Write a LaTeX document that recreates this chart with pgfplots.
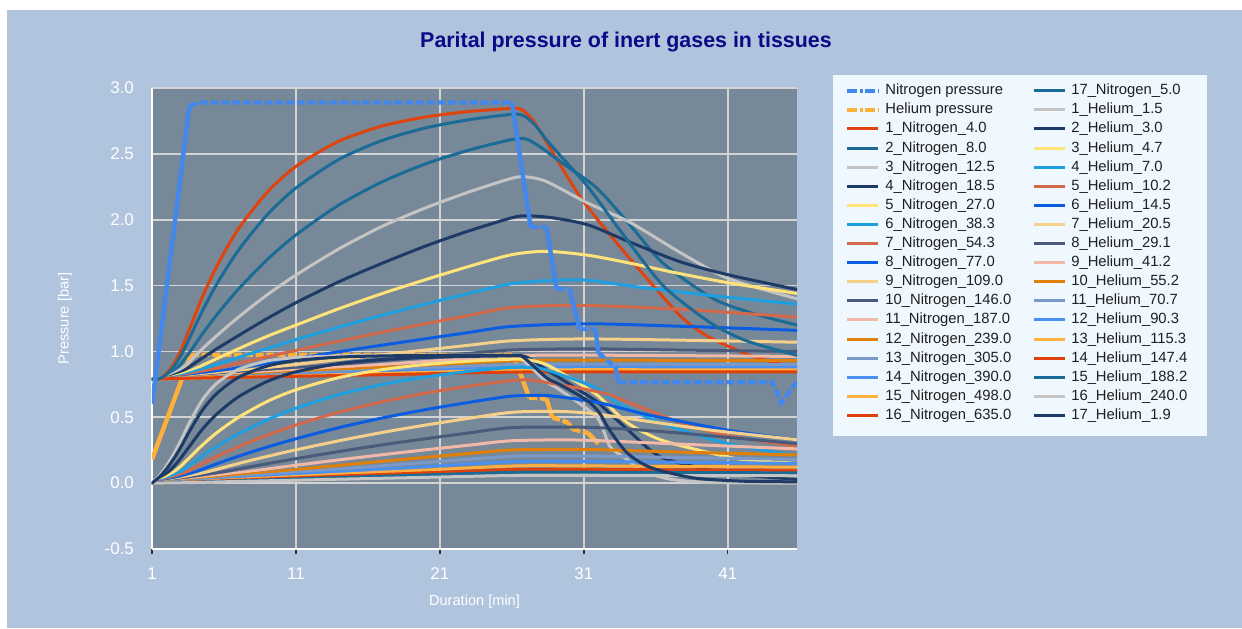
\documentclass[border=0pt]{standalone}
\usepackage{pgfplots}
\pgfplotsset{compat=1.18}
\usepackage{fontspec}
\setmainfont{Liberation Sans}
\definecolor{outerbg}{RGB}{176,196,222}
\definecolor{plotbg}{RGB}{119,136,153}
\definecolor{legbg}{RGB}{240,248,255}
\definecolor{titlec}{RGB}{10,10,135}
\definecolor{gridc}{RGB}{211,211,211}
\definecolor{cNP}{RGB}{66,135,235}
\definecolor{cHP}{RGB}{255,176,59}
\definecolor{cRed}{RGB}{224,68,14}
\definecolor{cTeal}{RGB}{26,107,150}
\definecolor{cGrey}{RGB}{196,196,196}
\definecolor{cNavy}{RGB}{30,58,102}
\definecolor{cYel}{RGB}{255,227,122}
\definecolor{cLBlue}{RGB}{30,160,224}
\definecolor{cCoral}{RGB}{210,105,74}
\definecolor{cBlue}{RGB}{10,92,224}
\definecolor{cLOr}{RGB}{245,208,138}
\definecolor{cSlate}{RGB}{74,90,122}
\definecolor{cPink}{RGB}{242,184,168}
\definecolor{cOr}{RGB}{224,128,8}
\definecolor{cBGrey}{RGB}{122,152,200}
\definecolor{cMBlue}{RGB}{74,144,240}
\definecolor{cYOr}{RGB}{255,176,64}
\definecolor{cRed2}{RGB}{224,64,10}
\begin{document}
\begin{tikzpicture}[x=1pt,y=1pt]
\fill[white] (0,0) rectangle (621,314);
\fill[outerbg] (3.5,0) rectangle (621,309);
\fill[legbg] (416.5,96) rectangle (603.5,276.5);
\node[font=\bfseries\fontsize{10.7}{12}\selectfont, text=titlec] at (313,293) {Parital pressure of inert gases in tissues};
\begin{axis}[
  at={(76pt,39.5pt)}, anchor=south west,
  width=322.5pt, height=230.5pt, scale only axis,
  xmin=1, xmax=45.8, ymin=-0.5, ymax=3.0,
  xtick={1,11,21,31,41}, ytick={-0.5,0,...,3},
  axis background/.style={fill=plotbg},
  grid=major, major grid style={gridc, line width=0.8pt},
  axis lines*=left, axis line style={white, line width=1pt},
  tick style={black!80, line width=0.6pt}, major tick length=2.5pt, tick align=outside,
  ytick style={draw=none},
  ticklabel style={white, font=\fontsize{8.5}{10}\selectfont},
  /pgf/number format/assume math mode=true,
  yticklabel style={/pgf/number format/.cd, fixed, fixed zerofill, precision=1, /tikz/.cd, xshift=-3pt},
  xticklabel style={yshift=-3.5pt},
  xlabel={Duration [min]}, ylabel={Pressure [bar]},
  label style={text=white, font=\fontsize{7.3}{9}\selectfont},
  xlabel style={at={(axis description cs:0.5,-0.115)}, anchor=center},
  ylabel style={at={(axis description cs:-0.135,0.5)}, anchor=center},
  unbounded coords=jump,
  tis/.style={smooth, tension=0.45, forget plot, line width=1.5pt, line cap=round, line join=round},
  pres/.style={forget plot, line width=2.2pt},
  legend columns=2, legend cell align=left,
  legend image code/.code={\draw[#1] (0pt,0pt) -- (15.5pt,0pt);},
  legend style={at={(1.0744,1.0126)}, anchor=north west, draw=none, fill=none,
    inner xsep=0pt, inner ysep=0pt, font=\fontsize{7.4}{8.5}\selectfont, text=black!88,
    nodes={inner sep=0.5pt, text height=5.6pt, text depth=1.6pt, anchor=west},
    row sep=1.35pt,
    /tikz/every even column/.append style={column sep=10pt},
    /tikz/every odd column/.append style={column sep=2pt}},
]
% Helium pressure
\addplot[pres, cHP] coordinates {(1,0.18)(3.7,0.975)(3.8,nan)(26.1,0.975)(27.2,0.65)(27.3,nan)(28.4,0.64)(28.8,0.50)(28.9,nan)(29.9,0.46)(30.2,0.41)(30.3,nan)(31.3,0.38)(32.0,0.30)};
\addplot[pres, cHP, dash pattern=on 4pt off 1.4pt] coordinates {(3.7,0.975)(26.1,0.975)(26.2,nan)(27.2,0.65)(28.4,0.64)(28.5,nan)(28.8,0.50)(29.9,0.46)(30.0,nan)(30.2,0.41)(31.3,0.38)};
% Nitrogen tissues
\addplot[tis, cRed] coordinates {(1,0.79)(1.5,0.793)(2,0.832)(2.5,0.904)(3,1.007)(3.6,1.167)(4.5,1.414)(5.5,1.647)(7,1.93)(9,2.208)(11,2.405)(14,2.597)(17,2.712)(20,2.78)(23,2.821)(26,2.845)(26.7,2.835)(27.5,2.75)(28.4,2.59)(30.7,2.18)(33,1.86)(35.4,1.55)(37.7,1.27)(39.5,1.12)(42.3,0.98)(44.4,0.91)(45.8,0.88)};
\addplot[tis, cTeal] coordinates {(1,0.79)(1.5,0.791)(2,0.811)(2.5,0.849)(3,0.904)(3.6,0.991)(4.5,1.133)(5.5,1.278)(7,1.473)(9,1.697)(11,1.885)(14,2.113)(17,2.288)(20,2.424)(23,2.528)(26,2.609)(27,2.612)(28,2.55)(29.5,2.43)(31.9,2.24)(34.2,1.96)(36.5,1.67)(40,1.40)(43,1.28)(45.8,1.20)};
\addplot[tis, cGrey] coordinates {(1,0.79)(2,0.804)(3,0.866)(3.6,0.92)(4.5,1.02)(5.5,1.12)(7,1.26)(9,1.43)(11,1.58)(14,1.78)(17,1.95)(20,2.09)(23,2.21)(26,2.315)(27,2.325)(28.4,2.29)(31.2,2.13)(34.2,1.98)(37.7,1.75)(41.1,1.55)(45.8,1.40)};
\addplot[tis, cNavy] coordinates {(1,0.79)(2,0.799)(3,0.842)(3.6,0.883)(4.5,0.95)(5.5,1.02)(7,1.12)(9,1.25)(11,1.37)(14,1.53)(17,1.67)(20,1.80)(23,1.915)(26,2.015)(27,2.03)(28.8,2.015)(31.3,1.96)(34.2,1.83)(37.7,1.68)(41.1,1.58)(45.8,1.47)};
\addplot[tis, cYel] coordinates {(1,0.79)(2,0.796)(3,0.825)(3.6,0.85)(5.5,0.945)(7,1.02)(9,1.115)(11,1.20)(14,1.325)(17,1.44)(20,1.545)(23,1.645)(26,1.735)(28.4,1.76)(31.3,1.73)(34.2,1.67)(37.7,1.59)(41.1,1.52)(45.8,1.44)};
\addplot[tis, cLBlue] coordinates {(1,0.79)(2,0.795)(3,0.815)(3.6,0.835)(7,0.955)(11,1.09)(14,1.185)(17,1.275)(20,1.36)(23,1.44)(26,1.515)(29,1.54)(31.3,1.54)(35.4,1.48)(41.1,1.41)(45.8,1.36)};
\addplot[tis, cCoral] coordinates {(1,0.79)(2,0.794)(3,0.808)(3.6,0.822)(7,0.91)(11,1.008)(14,1.078)(17,1.146)(20,1.21)(23,1.273)(26,1.333)(30.7,1.35)(37.7,1.32)(45.8,1.26)};
\addplot[tis, cBlue] coordinates {(1,0.79)(2,0.792)(3.6,0.812)(7,0.875)(11,0.946)(14,0.998)(17,1.048)(20,1.096)(23,1.144)(26,1.19)(31.3,1.21)(38,1.19)(45.8,1.16)};
\addplot[tis, cLOr] coordinates {(1,0.79)(2,0.791)(3.6,0.806)(7,0.85)(11,0.901)(14,0.939)(17,0.975)(20,1.011)(23,1.047)(26,1.081)(31,1.095)(38,1.085)(45.8,1.07)};
\addplot[tis, cSlate] coordinates {(1,0.79)(3.6,0.802)(7,0.835)(11,0.874)(14,0.902)(17,0.93)(20,0.958)(23,0.985)(26,1.011)(31,1.02)(38,1.01)(45.8,1.00)};
\addplot[tis, cPink] coordinates {(1,0.79)(3.6,0.80)(7,0.826)(14,0.879)(20,0.923)(26,0.966)(31,0.972)(45.8,0.962)};
\addplot[tis, cOr] coordinates {(1,0.79)(3.6,0.799)(7,0.818)(14,0.86)(20,0.895)(26,0.929)(31,0.934)(45.8,0.93)};
\addplot[tis, cBGrey] coordinates {(1,0.79)(3.6,0.798)(7,0.812)(14,0.845)(20,0.872)(26,0.90)(31,0.904)(45.8,0.90)};
\addplot[tis, cMBlue] coordinates {(1,0.79)(7,0.808)(14,0.833)(20,0.855)(26,0.876)(31,0.879)(45.8,0.877)};
\addplot[tis, cYOr] coordinates {(1,0.79)(7,0.806)(14,0.824)(20,0.841)(26,0.858)(31,0.861)(45.8,0.86)};
\addplot[tis, cRed2] coordinates {(1,0.79)(7,0.804)(14,0.817)(20,0.83)(26,0.843)(31,0.845)(45.8,0.845)};
\addplot[tis, cTeal] coordinates {(1,0.79)(1.5,0.792)(2,0.824)(2.5,0.883)(3,0.967)(3.6,1.099)(4.5,1.308)(5.5,1.511)(7,1.768)(9,2.037)(11,2.241)(14,2.459)(17,2.602)(20,2.697)(23,2.759)(26,2.80)(26.8,2.79)(27.6,2.72)(28.6,2.58)(31.2,2.26)(33.5,1.92)(36.5,1.50)(39.75,1.22)(42.3,1.08)(45.8,0.97)};
% Helium tissues
\addplot[tis, cGrey] coordinates {(1,0)(1.5,0.055)(2,0.13)(2.5,0.22)(3,0.323)(3.6,0.459)(4.5,0.633)(5.5,0.758)(7,0.864)(9,0.928)(11,0.953)(14,0.966)(17,0.97)(26,0.97)(26.8,0.93)(28.4,0.77)(29.3,0.71)(31.9,0.50)(32.8,0.28)(34,0.18)(35.1,0.09)(37,0.03)(39.75,0.005)(45.8,0.0)};
\addplot[tis, cNavy] coordinates {(1,0)(1.5,0.029)(2,0.071)(2.5,0.125)(3,0.19)(3.6,0.279)(4.5,0.409)(5.5,0.525)(7,0.655)(9,0.772)(11,0.845)(14,0.908)(17,0.939)(20,0.954)(23,0.962)(26,0.966)(27,0.958)(28.4,0.86)(29.3,0.80)(31.9,0.62)(32.3,0.58)(34,0.41)(36.3,0.20)(39.75,0.10)(42,0.06)(45.8,0.03)};
\addplot[tis, cYel] coordinates {(1,0)(1.5,0.019)(2,0.047)(2.5,0.084)(3,0.129)(3.6,0.193)(4.5,0.289)(5.5,0.383)(7,0.499)(9,0.62)(11,0.709)(14,0.802)(17,0.862)(20,0.901)(23,0.926)(26,0.941)(27.2,0.935)(28.4,0.90)(30,0.80)(31.9,0.67)(34,0.46)(36.3,0.33)(39.75,0.23)(42,0.18)(45.8,0.15)};
\addplot[tis, cLBlue] coordinates {(1,0)(2,0.032)(3,0.09)(3.6,0.136)(4.5,0.207)(5.5,0.279)(7,0.374)(9,0.481)(11,0.569)(14,0.672)(17,0.749)(20,0.806)(23,0.848)(26,0.879)(28,0.87)(30,0.80)(31.9,0.72)(33.5,0.60)(36.5,0.45)(41,0.30)(45.8,0.21)};
\addplot[tis, cCoral] coordinates {(1,0)(2,0.023)(3,0.064)(3.6,0.096)(4.5,0.148)(5.5,0.202)(7,0.276)(9,0.364)(11,0.441)(14,0.539)(17,0.618)(20,0.683)(23,0.736)(26,0.779)(27.5,0.78)(30.7,0.72)(32.5,0.68)(34.2,0.61)(37.7,0.46)(41,0.36)(45.8,0.28)};
\addplot[tis, cBlue] coordinates {(1,0)(2,0.016)(3,0.046)(3.6,0.069)(5.5,0.147)(7,0.204)(9,0.274)(11,0.337)(14,0.422)(17,0.495)(20,0.558)(23,0.613)(26,0.661)(28.4,0.665)(30.7,0.635)(32.5,0.60)(35.4,0.52)(41.1,0.40)(45.8,0.33)};
\addplot[tis, cLOr] coordinates {(1,0)(2,0.011)(3,0.032)(3.6,0.049)(7,0.149)(9,0.203)(11,0.253)(14,0.322)(17,0.385)(20,0.441)(23,0.492)(26,0.538)(29,0.545)(31.5,0.53)(35.4,0.47)(40,0.40)(45.8,0.33)};
\addplot[tis, cSlate] coordinates {(1,0)(2,0.008)(3.6,0.035)(7,0.108)(11,0.186)(14,0.24)(17,0.291)(20,0.337)(23,0.381)(26,0.422)(30.7,0.425)(34,0.41)(37.7,0.38)(45.8,0.30)};
\addplot[tis, cPink] coordinates {(1,0)(2,0.006)(3.6,0.025)(7,0.078)(11,0.136)(14,0.177)(17,0.216)(20,0.253)(23,0.288)(26,0.322)(30.7,0.327)(38,0.295)(45.8,0.26)};
\addplot[tis, cOr] coordinates {(1,0)(3.6,0.019)(7,0.059)(11,0.103)(14,0.135)(17,0.166)(20,0.196)(23,0.225)(26,0.252)(31,0.256)(38,0.235)(45.8,0.214)};
\addplot[tis, cBGrey] coordinates {(1,0)(3.6,0.015)(7,0.046)(14,0.107)(20,0.157)(26,0.203)(31,0.206)(45.8,0.18)};
\addplot[tis, cMBlue] coordinates {(1,0)(3.6,0.012)(7,0.036)(14,0.085)(20,0.125)(26,0.163)(31,0.165)(45.8,0.15)};
\addplot[tis, cYOr] coordinates {(1,0)(3.6,0.009)(7,0.028)(14,0.067)(20,0.099)(26,0.13)(31,0.131)(45.8,0.121)};
\addplot[tis, cRed2] coordinates {(1,0)(3.6,0.007)(7,0.022)(14,0.053)(20,0.078)(26,0.103)(31,0.104)(45.8,0.097)};
\addplot[tis, cTeal] coordinates {(1,0)(3.6,0.0055)(7,0.017)(14,0.042)(20,0.062)(26,0.082)(31,0.083)(45.8,0.078)};
\addplot[tis, cGrey] coordinates {(1,0)(3.6,0.004)(7,0.013)(14,0.03)(20,0.044)(26,0.058)(31,0.059)(45.8,0.056)};
\addplot[tis, cNavy] coordinates {(1,0)(1.5,0.045)(2,0.107)(2.5,0.184)(3,0.273)(3.6,0.393)(4.5,0.554)(5.5,0.681)(7,0.803)(9,0.889)(11,0.931)(14,0.957)(17,0.966)(20,0.969)(26,0.97)(26.8,0.955)(28.4,0.80)(29.3,0.75)(31.2,0.63)(32.1,0.53)(32.8,0.40)(34,0.23)(35.6,0.12)(38.6,0.04)(42,0.015)(45.8,0.01)};
% Nitrogen pressure
\addplot[pres, cNP] coordinates {(1,0.60)(3.6,2.865)(3.7,nan)(26.0,2.89)(27.3,1.945)(27.4,nan)(28.4,1.945)(29.1,1.475)(29.2,nan)(30.0,1.475)(30.7,1.17)(30.8,nan)(31.8,1.17)(32.0,0.99)(32.1,nan)(33.2,0.88)(33.4,0.766)};
\addplot[pres, cNP, dash pattern=on 4pt off 1.4pt] coordinates {(3.6,2.865)(4.3,2.89)(26.0,2.89)(26.1,nan)(27.3,1.945)(28.4,1.945)(28.5,nan)(29.1,1.475)(30.0,1.475)(30.1,nan)(30.7,1.17)(31.8,1.17)(31.9,nan)(32.0,0.99)(33.2,0.88)(33.3,nan)(33.4,0.766)(44.1,0.766)(44.7,0.61)(45.8,0.77)};
% Legend (row-wise, 2 columns)
\addlegendimage{cNP, line width=2pt, dash pattern=on 5pt off 1.2pt on 1.5pt off 1.2pt}\addlegendentry{Nitrogen pressure}
\addlegendimage{cTeal, line width=1.5pt}\addlegendentry{17\_Nitrogen\_5.0}
\addlegendimage{cHP, line width=2pt, dash pattern=on 5pt off 1.2pt on 1.5pt off 1.2pt}\addlegendentry{Helium pressure}
\addlegendimage{cGrey, line width=1.5pt}\addlegendentry{1\_Helium\_1.5}
\addlegendimage{cRed, line width=1.5pt}\addlegendentry{1\_Nitrogen\_4.0}
\addlegendimage{cNavy, line width=1.5pt}\addlegendentry{2\_Helium\_3.0}
\addlegendimage{cTeal, line width=1.5pt}\addlegendentry{2\_Nitrogen\_8.0}
\addlegendimage{cYel, line width=1.5pt}\addlegendentry{3\_Helium\_4.7}
\addlegendimage{cGrey, line width=1.5pt}\addlegendentry{3\_Nitrogen\_12.5}
\addlegendimage{cLBlue, line width=1.5pt}\addlegendentry{4\_Helium\_7.0}
\addlegendimage{cNavy, line width=1.5pt}\addlegendentry{4\_Nitrogen\_18.5}
\addlegendimage{cCoral, line width=1.5pt}\addlegendentry{5\_Helium\_10.2}
\addlegendimage{cYel, line width=1.5pt}\addlegendentry{5\_Nitrogen\_27.0}
\addlegendimage{cBlue, line width=1.5pt}\addlegendentry{6\_Helium\_14.5}
\addlegendimage{cLBlue, line width=1.5pt}\addlegendentry{6\_Nitrogen\_38.3}
\addlegendimage{cLOr, line width=1.5pt}\addlegendentry{7\_Helium\_20.5}
\addlegendimage{cCoral, line width=1.5pt}\addlegendentry{7\_Nitrogen\_54.3}
\addlegendimage{cSlate, line width=1.5pt}\addlegendentry{8\_Helium\_29.1}
\addlegendimage{cBlue, line width=1.5pt}\addlegendentry{8\_Nitrogen\_77.0}
\addlegendimage{cPink, line width=1.5pt}\addlegendentry{9\_Helium\_41.2}
\addlegendimage{cLOr, line width=1.5pt}\addlegendentry{9\_Nitrogen\_109.0}
\addlegendimage{cOr, line width=1.5pt}\addlegendentry{10\_Helium\_55.2}
\addlegendimage{cSlate, line width=1.5pt}\addlegendentry{10\_Nitrogen\_146.0}
\addlegendimage{cBGrey, line width=1.5pt}\addlegendentry{11\_Helium\_70.7}
\addlegendimage{cPink, line width=1.5pt}\addlegendentry{11\_Nitrogen\_187.0}
\addlegendimage{cMBlue, line width=1.5pt}\addlegendentry{12\_Helium\_90.3}
\addlegendimage{cOr, line width=1.5pt}\addlegendentry{12\_Nitrogen\_239.0}
\addlegendimage{cYOr, line width=1.5pt}\addlegendentry{13\_Helium\_115.3}
\addlegendimage{cBGrey, line width=1.5pt}\addlegendentry{13\_Nitrogen\_305.0}
\addlegendimage{cRed2, line width=1.5pt}\addlegendentry{14\_Helium\_147.4}
\addlegendimage{cMBlue, line width=1.5pt}\addlegendentry{14\_Nitrogen\_390.0}
\addlegendimage{cTeal, line width=1.5pt}\addlegendentry{15\_Helium\_188.2}
\addlegendimage{cYOr, line width=1.5pt}\addlegendentry{15\_Nitrogen\_498.0}
\addlegendimage{cGrey, line width=1.5pt}\addlegendentry{16\_Helium\_240.0}
\addlegendimage{cRed2, line width=1.5pt}\addlegendentry{16\_Nitrogen\_635.0}
\addlegendimage{cNavy, line width=1.5pt}\addlegendentry{17\_Helium\_1.9}
\end{axis}
\end{tikzpicture}
\end{document}
